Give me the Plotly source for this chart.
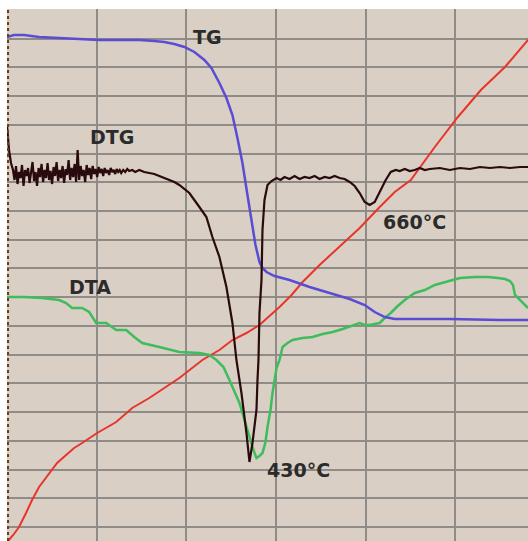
import plotly.graph_objects as go

# Chart units: horizontal 8..528, vertical 10 (top) .. 541 (bottom)
tg_x = [8, 15, 25, 40, 60, 80, 100, 120, 140, 155, 165, 175, 185, 195, 205, 212, 220, 227, 233, 238,
        243, 248, 252, 256, 260, 263, 267, 275, 290, 310, 330, 350, 365, 375, 385, 395, 410, 450, 500, 528]
tg_y = [37, 35, 35, 37, 38, 39, 40, 40, 40, 41, 42, 44, 47, 52, 60, 68, 83, 98, 115, 138,
        163, 195, 222, 245, 262, 268, 272, 276, 280, 287, 293, 299, 305, 312, 317, 319, 319, 319, 320, 320]

dtg_x = [8, 10, 12, 14, 15.5, 17, 18.5, 20, 21.5, 23, 24.5, 26, 27.5, 29, 30.5, 32, 33.5, 35, 36.5, 38,
         39.5, 41, 42.5, 44, 45.5, 47, 48.5, 50, 51.5, 53, 54.5, 56, 57.5, 59, 60.5, 62, 63.5, 65, 66.5,
         68, 69.5, 71, 72.5, 74, 75.5, 77, 78.5, 80, 81.5, 83, 84.5, 86, 87.5, 89, 90.5, 92, 93.5, 95,
         96.5, 98, 99.5, 101, 102.5, 104, 105.5, 107, 108.5, 110, 111.5, 113, 114.5, 116, 117.5, 119,
         120.5, 122, 124, 126, 128, 130, 133, 136, 140, 145, 150, 155, 160, 165,
         170, 175, 180, 190, 200, 207, 213, 220, 227, 233, 237, 242, 247, 250, 253, 257, 258, 259, 260,
         262, 263, 265, 268, 272, 277, 281, 285, 290, 295, 300, 305, 310, 315, 320, 325, 330, 335, 340,
         345, 350, 355, 360, 365, 370, 375, 381, 386, 391, 396, 400, 405, 410, 415, 420, 425, 430, 440,
         450, 460, 470, 480, 490, 500, 510, 520, 528]
dtg_y = [125, 150, 163, 170, 180, 166, 184, 172, 178, 165, 186, 170, 176, 168, 183, 171, 162, 181, 172,
         186, 168, 177, 164, 182, 170, 178, 163, 180, 171, 184, 167, 176, 162, 181, 170, 178, 166, 183,
         169, 175, 160, 180, 168, 177, 164, 182, 150, 180, 166, 176, 170, 182, 165, 175, 168, 179, 166,
         174, 169, 177, 167, 173, 169, 176, 168, 173, 170, 175, 168, 172, 170, 174, 169, 172, 170, 173,
         170, 172, 169, 171, 170, 172, 170, 172, 173, 174, 176, 178,
         180, 182, 185, 193, 207, 217, 237, 257, 287, 323, 360, 393, 433, 462, 443, 410, 380, 360, 313,
         280, 230, 200, 185, 181, 178, 180, 177, 179, 176, 179, 177, 178, 176, 179, 177, 178, 176, 178,
         179, 182, 186, 193, 202, 205, 202, 190, 180, 172, 170, 171, 169, 171, 170, 168, 170, 169, 168,
         170, 168, 169, 167, 168, 167, 168, 167, 167]

dta_x = [8, 25, 43, 60, 67, 73, 83, 90, 97, 107, 117, 127, 135, 143, 160, 180, 200, 210, 217, 224, 230,
         235, 240, 245, 250, 254, 257, 260, 263, 266, 268, 271, 273, 277, 280, 283, 288, 293, 303, 313,
         323, 333, 343, 353, 360, 365, 370, 375, 380, 385, 391, 398, 405, 415, 425, 435, 446, 460, 475,
         488, 498, 505, 510, 513, 515, 520, 525, 528]
dta_y = [297, 297, 298, 300, 303, 308, 308, 312, 323, 323, 330, 330, 337, 343, 347, 352, 353, 355, 360,
         367, 380, 392, 403, 420, 437, 450, 458, 456, 453, 442, 427, 410, 393, 368, 360, 347, 343, 340,
         338, 337, 334, 332, 329, 325, 323, 325, 325, 324, 323, 318, 313, 306, 300, 293, 290, 285, 282,
         278, 277, 277, 278, 279, 281, 285, 295, 300, 305, 308]

temp_x = [8, 10, 15, 20, 27, 33, 40, 50, 58, 67, 75, 83, 98, 117, 133, 150, 165, 180, 203, 220, 233,
          247, 260, 270, 280, 292, 303, 320, 340, 360, 380, 395, 411, 435, 458, 481, 505, 528]
temp_y = [541, 540, 534, 527, 513, 500, 487, 473, 463, 455, 448, 443, 433, 422, 408, 398, 388, 378, 360,
          350, 340, 333, 325, 316, 307, 295, 282, 265, 247, 228, 207, 192, 180, 147, 117, 90, 67, 40]

labels = ["TG", "DTG", "DTA", "660°C", "430°C"]
label_x = [208, 113, 91, 415, 299]
label_y = [37, 137, 287, 222, 470]

fig = go.Figure()
fig.add_trace(go.Scatter(x=temp_x, y=temp_y, mode="lines", line=dict(color="#e8352c", width=2)))
fig.add_trace(go.Scatter(x=dta_x, y=dta_y, mode="lines", line=dict(color="#3dbd5c", width=2.5)))
fig.add_trace(go.Scatter(x=tg_x, y=tg_y, mode="lines", line=dict(color="#5a4cd4", width=2.5)))
fig.add_trace(go.Scatter(x=dtg_x, y=dtg_y, mode="lines", line=dict(color="#2a0b0d", width=2.2)))

for t, x, y in zip(labels, label_x, label_y):
    fig.add_annotation(x=x, y=y, xref="x", yref="y", text="<b>%s</b>" % t, showarrow=False,
                       xanchor="center", yanchor="middle",
                       font=dict(family="DejaVu Sans", size=19, color="#2b2b2b"))

fig.add_shape(type="line", xref="x", yref="y", x0=8.8, x1=8.8, y0=10, y1=541,
              line=dict(color="#6b3e1c", width=2.5, dash="3px,3px"))

fig.update_xaxes(range=[8, 528], tick0=8, dtick=89.5, showgrid=True, gridcolor="#8f8b86",
                 gridwidth=2, showticklabels=False, zeroline=False, ticks="", showline=False)
fig.update_yaxes(range=[541, 9], tick0=10, dtick=28.72, showgrid=True, gridcolor="#8f8b86",
                 gridwidth=2, showticklabels=False, zeroline=False, ticks="", showline=False)

fig.update_layout(width=528, height=541, margin=dict(l=7, r=0, t=9, b=0),
                  paper_bgcolor="white", plot_bgcolor="#d9cfc4", showlegend=False)

fig.write_html("out.html")
